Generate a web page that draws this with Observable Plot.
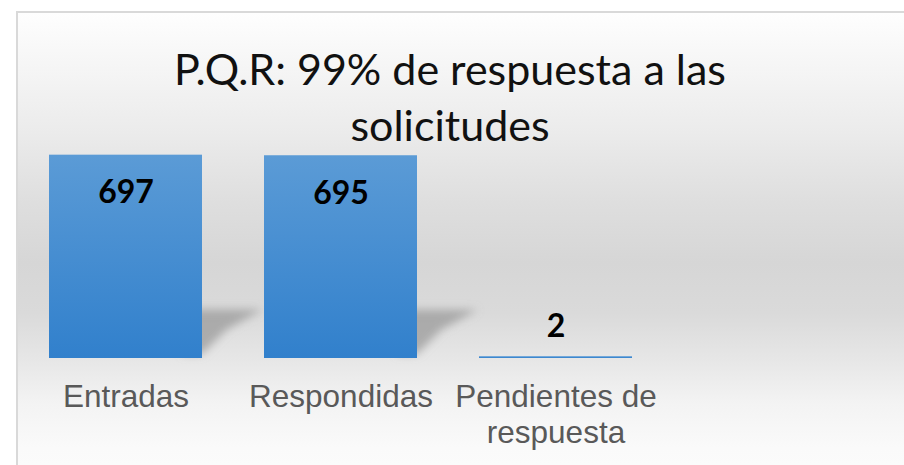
<!DOCTYPE html>
<html>
<head>
<meta charset="utf-8">
<script src="https://cdn.jsdelivr.net/npm/d3@7"></script>
<script src="https://cdn.jsdelivr.net/npm/@observablehq/plot@0.6"></script>
<style>
  html, body { margin: 0; padding: 0; background: #ffffff; }
  #wrap { position: relative; width: 904px; height: 465px; overflow: hidden; background: #ffffff; }
  #frame {
    position: absolute; left: 16px; top: 11px; width: 904px; height: 470px;
    border-left: 2px solid #d9d9d9; border-top: 2px solid #d9d9d9;
    background: linear-gradient(to bottom,
      #fefefe 0px, #f6f6f6 50px, #ebebeb 120px, #dedede 190px,
      #d6d6d6 250px, #dadada 300px, #e6e6e6 345px, #f3f3f3 390px,
      #fafafa 435px, #fcfcfc 470px);
  }
  #chart { position: absolute; left: 0; top: 0; }
  #title {
    position: absolute; left: 0; top: 41px; width: 900px; text-align: center;
    font-family: Lato, "Open Sans", sans-serif; font-size: 43px; line-height: 56px; color: #111111;
  }
</style>
</head>
<body>
<div id="wrap">
  <div id="frame"></div>
  <div id="chart"></div>
  <div id="title">P.Q.R: 99% de respuesta a las<br>solicitudes</div>
</div>
<script>
const categories = ["Entradas", "Respondidas", "Pendientes de respuesta"];
const values = [697, 695, 2];
const axisLabels = ["Entradas", "Respondidas", "Pendientes de\nrespuesta"];

const data = categories.map((c, i) => ({category: c, value: values[i], label: axisLabels[i]}));

const plot = Plot.plot({
  width: 904,
  height: 465,
  marginTop: 155,
  marginBottom: 107,
  marginLeft: 18,
  marginRight: 241,
  style: {background: "transparent", overflow: "visible"},
  x: {domain: categories, paddingInner: 0.288, paddingOuter: 0.144, axis: null},
  y: {domain: [0, 700], axis: null},
  marks: [
    Plot.barY(data, {x: "category", y: "value", fill: "url(#barGrad)", insetTop: -1.2}),
    Plot.text(data.filter(d => d.value >= 100), {
      x: "category", y: "value", text: d => String(d.value), dy: 47, lineAnchor: "bottom",
      fontSize: 32, fontWeight: "bold", fontFamily: "Lato, sans-serif", fill: "#000000"
    }),
    Plot.text(data.filter(d => d.value < 100), {
      x: "category", y: "value", text: d => String(d.value), dy: -21, lineAnchor: "bottom",
      fontSize: 32, fontWeight: "bold", fontFamily: "Lato, sans-serif", fill: "#000000"
    }),
    Plot.text(data, {
      x: "category", y: () => 0, text: "label", lineAnchor: "top", dy: 23.4, lineHeight: 1.143,
      fontSize: 31.5, fontFamily: "Liberation Sans, Arial, sans-serif", fill: "#595959"
    })
  ]
});

document.getElementById("chart").appendChild(plot);

const svg = d3.select(plot);
const defs = svg.insert("defs", ":first-child");
const grad = defs.append("linearGradient").attr("id", "barGrad")
  .attr("x1", 0).attr("y1", 0).attr("x2", 0).attr("y2", 1);
grad.append("stop").attr("offset", "0%").attr("stop-color", "#5b9bd6");
grad.append("stop").attr("offset", "100%").attr("stop-color", "#3180cc");
const blur = defs.append("filter").attr("id", "shadowBlur")
  .attr("x", "-50%").attr("y", "-50%").attr("width", "200%").attr("height", "200%");
blur.append("feGaussianBlur").attr("stdDeviation", 4);

// perspective shadows derived from the bars' scaled positions, placed behind the bars
const xs = plot.scale("x"), ys = plot.scale("y");
const bw = xs.bandwidth;
const y0 = ys.apply(0);
const barGroup = plot.querySelector("g[aria-label='bar']");
const shadowNode = document.createElementNS("http://www.w3.org/2000/svg", "g");
barGroup.parentNode.insertBefore(shadowNode, barGroup);
const shadowG = d3.select(shadowNode).attr("filter", "url(#shadowBlur)");
data.filter(d => d.value >= 100).forEach(d => {
  const xr = xs.apply(d.category) + bw;
  const h = y0 - ys.apply(d.value);
  const top = y0 - 0.24 * h;
  const pts = [[xr - 20, top], [xr + 0.3 * h, top], [xr + 0.12 * h, top + 0.1 * h], [xr, y0 - 4], [xr - 20, y0 - 4]];
  shadowG.append("polygon").attr("points", pts.map(p => p.join(",")).join(" "))
    .attr("fill", "#959595").attr("fill-opacity", 0.7);
});
</script>
</body>
</html>
